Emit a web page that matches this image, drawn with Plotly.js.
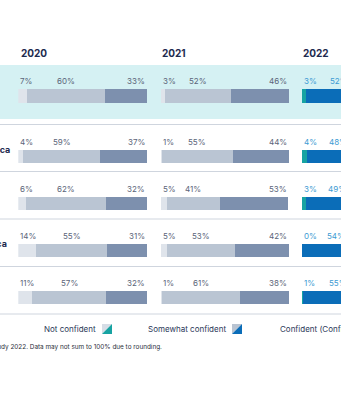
<!DOCTYPE html>
<html>
<head>
<meta charset="utf-8">
<script src="https://cdn.plot.ly/plotly-3.0.1.min.js"></script>
<style>
html,body{margin:0;padding:0;background:#fff;overflow:hidden;}
#chart{width:341px;height:400px;}
</style>
</head>
<body>
<div id="chart"></div>
<script>
// ---- data ----
const years = ['2020', '2021', '2022'];
const regions = ['Global', 'North America', 'Europe', 'Latin America', 'Asia'];
const seriesNames = ['Not confident', 'Somewhat confident', 'Confident (Confident + Very confident)'];
const notConfident2020 = [7, 4, 6, 14, 11];
const somewhat2020 = [60, 59, 62, 55, 57];
const confident2020 = [33, 37, 32, 31, 32];
const notConfident2021 = [3, 1, 5, 5, 1];
const somewhat2021 = [52, 55, 41, 53, 61];
const confident2021 = [46, 44, 53, 42, 38];
const notConfident2022 = [3, 4, 3, 0, 1];
const somewhat2022 = [52, 48, 49, 54, 55];
const confident2022 = [45, 48, 48, 46, 44];
const footnote = 'Source: Global Investor Study 2022. Data may not sum to 100% due to rounding.';

// ---- layout helpers ----
const W = 341, H = 400;
const px = x => x / W;
const py = y => 1 - y / H;

const cols = [
  {vals: [notConfident2020, somewhat2020, confident2020], colors: ['#dfe4eb', '#bac5d3', '#7d90ae'], label: '#5b6579'},
  {vals: [notConfident2021, somewhat2021, confident2021], colors: ['#dfe4eb', '#bac5d3', '#7d90ae'], label: '#5b6579'},
  {vals: [notConfident2022, somewhat2022, confident2022], colors: ['#17a3a2', '#0b6db8', '#0a4d8c'], label: '#3d9bd3'}
];
const xNames = ['x', 'x2', 'x3'];

const traces = [];
const annotations = [];
cols.forEach((col, c) => {
  col.vals.forEach((arr, s) => {
    traces.push({
      type: 'bar', orientation: 'h', name: seriesNames[s], showlegend: false,
      x: [arr[0]], y: [0], xaxis: xNames[c], yaxis: 'y',
      marker: {color: col.colors[s], line: {width: 0}}, hoverinfo: 'skip'
    });
    traces.push({
      type: 'bar', orientation: 'h', name: seriesNames[s], showlegend: false,
      x: arr.slice(1), y: arr.slice(1).map((_, i) => i), xaxis: xNames[c], yaxis: 'y2',
      marker: {color: col.colors[s], line: {width: 0}}, hoverinfo: 'skip'
    });
  });
  regions.forEach((r, i) => {
    const yref = i === 0 ? 'y' : 'y2';
    const yv = i === 0 ? 0 : i - 1;
    const a = col.vals[0][i], b = col.vals[1][i], d = col.vals[2][i];
    const f = {family: 'Inter, sans-serif', size: 8, color: col.label};
    annotations.push({xref: xNames[c], yref, x: 0, y: yv, yshift: 15, text: a + '%', showarrow: false, xanchor: 'left', yanchor: 'middle', font: f});
    annotations.push({xref: xNames[c], yref, x: a + b / 2, y: yv, yshift: 15, text: b + '%', showarrow: false, xanchor: 'center', yanchor: 'middle', font: f});
    annotations.push({xref: xNames[c], yref, x: 100, y: yv, yshift: 15, text: d + '%', showarrow: false, xanchor: 'right', yanchor: 'middle', font: f});
  });
});

// year titles
const yearX = [18.5, 160, 300.5];
years.forEach((y, i) => {
  annotations.push({xref: 'paper', yref: 'paper', x: px(yearX[i]), y: py(53), text: '<b>' + y + '</b>', showarrow: false,
    xanchor: 'left', yanchor: 'middle', font: {family: 'Inter, sans-serif', size: 10, color: '#1e2b4f'}});
});

// row labels (left, partially off-canvas)
regions.forEach((r, i) => {
  const yref = i === 0 ? 'y' : 'y2';
  const yv = i === 0 ? 0 : i - 1;
  annotations.push({xref: 'paper', yref, x: px(-56), y: yv, yshift: 7, text: '<b>' + r + '</b>', showarrow: false,
    xanchor: 'left', yanchor: 'middle', font: {family: 'Inter, sans-serif', size: 9, color: '#1e2b4f'}});
});

// legend texts
const legFont = {family: 'Inter, sans-serif', size: 8, color: '#2b3858'};
annotations.push({xref: 'paper', yref: 'paper', x: px(97.5), y: py(329), text: seriesNames[0], showarrow: false, xanchor: 'right', yanchor: 'middle', font: legFont});
annotations.push({xref: 'paper', yref: 'paper', x: px(227.5), y: py(329), text: seriesNames[1], showarrow: false, xanchor: 'right', yanchor: 'middle', font: legFont});
annotations.push({xref: 'paper', yref: 'paper', x: px(278), y: py(329), text: seriesNames[2], showarrow: false, xanchor: 'left', yanchor: 'middle', font: legFont});
annotations.push({xref: 'paper', yref: 'paper', x: px(163.5), y: py(347), text: footnote, showarrow: false, xanchor: 'right', yanchor: 'middle', font: {family: 'Inter, sans-serif', size: 6.4, color: '#2b2f3a'}});

// shapes
const shapes = [];
shapes.push({type: 'rect', xref: 'paper', yref: 'paper', x0: 0, x1: 1, y0: py(119), y1: py(65), fillcolor: '#d5f1f3', line: {width: 0}, layer: 'below'});
[124.5, 171.5, 219, 266.5, 314].forEach(y => {
  shapes.push({type: 'line', xref: 'paper', yref: 'paper', x0: 0, x1: 1, y0: py(y), y1: py(y), line: {color: '#cfd5de', width: 1}, layer: 'below'});
});
function icon(x0, y0, c1, c2) {
  const x1 = x0 + 10, y1 = y0 + 10;
  const P = (x, y) => px(x) + ',' + py(y);
  shapes.push({type: 'path', xref: 'paper', yref: 'paper', path: 'M' + P(x0, y0) + 'L' + P(x1, y0) + 'L' + P(x0, y1) + 'Z', fillcolor: c1, line: {width: 0}});
  shapes.push({type: 'path', xref: 'paper', yref: 'paper', path: 'M' + P(x1, y0) + 'L' + P(x1, y1) + 'L' + P(x0, y1) + 'Z', fillcolor: c2, line: {width: 0}});
}
icon(102, 324, '#d6dde6', '#17a3a2');
icon(232, 324, '#b9c4d2', '#0b6db8');

const axBase = {showgrid: false, zeroline: false, showticklabels: false, showline: false, ticks: '', fixedrange: true};
const barW = 128.5;
const layout = {
  width: W, height: H, margin: {l: 0, r: 0, t: 0, b: 0},
  paper_bgcolor: '#ffffff', plot_bgcolor: 'rgba(0,0,0,0)',
  barmode: 'stack', bargap: 0.72, showlegend: false,
  xaxis: Object.assign({}, axBase, {domain: [px(18.3), px(147.3)], range: [0, 100], anchor: 'y'}),
  xaxis2: Object.assign({}, axBase, {domain: [px(160.7), px(289)], range: [0, 100], anchor: 'y'}),
  xaxis3: Object.assign({}, axBase, {domain: [px(301.7), 1], range: [0, 100 * (W - 301.7) / barW], anchor: 'y'}),
  yaxis: Object.assign({}, axBase, {domain: [py(119.5), py(72.5)], range: [0.5, -0.5], anchor: 'x'}),
  yaxis2: Object.assign({}, axBase, {domain: [py(321), py(133)], range: [3.5, -0.5], anchor: 'x'}),
  annotations, shapes
};
Plotly.newPlot('chart', traces, layout, {displayModeBar: false, staticPlot: true});
</script>
</body>
</html>
